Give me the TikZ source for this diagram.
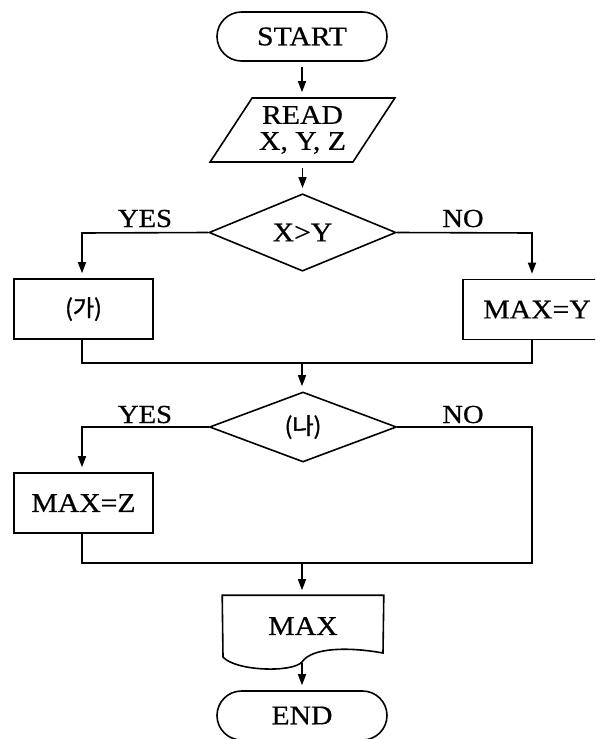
\documentclass[tikz,border=0pt]{standalone}
\usepackage{fontspec}
\setmainfont{Liberation Serif}[FakeStretch=1.1, FakeBold=0.6]
\newfontfamily\kr{Noto Sans CJK KR}[FakeBold=1.5]
\usetikzlibrary{shapes.geometric,shapes.misc,arrows.meta}

\begin{document}
\begin{tikzpicture}[x=1pt,y=-1pt, line width=1.6pt,
 every node/.style={font=\fontsize{27}{26}\selectfont, inner sep=0pt},
 term/.style={rounded rectangle, draw, minimum width=170, minimum height=49},
 io/.style={trapezium, trapezium left angle=53, trapezium right angle=127, trapezium stretches=true, draw, minimum width=185, minimum height=64, align=center},
 dec/.style={diamond, draw, minimum width=187, minimum height=71},
 proc/.style={rectangle, draw, minimum width=139, minimum height=60},
 krtext/.style={font=\kr\fontsize{23}{23}\selectfont},
 lbl/.style={font=\fontsize{26}{26}\selectfont, anchor=base},
 arr/.style={-{Triangle[length=11pt,width=8pt]}},
 gap/.style={shorten <=5pt, shorten >=5pt}
]
\path[clip] (0,0) rectangle (595,739);
\fill[white] (0,0) rectangle (595,739);

\node[term] (start) at (302,36.5) {START};
\node[io] (read) at (302.5,130) {READ\\X, Y, Z};
\node[dec] (d1) at (302.5,232.5) {X>Y};
\node[proc, krtext] (ga) at (83.5,309) {(가)};
\node[proc, minimum width=148] (maxy) at (537,309.5) {MAX=Y};
\coordinate (c0) at (82,233);
\coordinate (c1) at (532,233);
\coordinate (m1) at (302,363);
\node[dec, minimum height=70, krtext] (d2) at (303,427) {(나)};
\node[proc] (maxz) at (83.5,503) {MAX=Z};
\coordinate (m2) at (302,563);
\node[minimum width=160, minimum height=60] (doc) at (303,626) {MAX};
\coordinate (docb) at (302,663);
\node[term] (end) at (302,715.5) {END};

\node[lbl] (yes1) at (145,227) {YES};
\node[lbl] (no1) at (463,227) {NO};
\node[lbl] (yes2) at (145,423) {YES};
\node[lbl] (no2) at (463,423) {NO};

% document shape
\draw (doc.north west) -- (doc.north east) -- (383,653)
  .. controls (350,647) and (312,647) .. (302,662)
  .. controls (292,673) and (235,671) .. (223,657) -- cycle;

\draw[arr,gap] (start.south) -- (start.south |- read.north);
\draw[arr,gap] (read.south) -- (read.south |- d1.north);
\draw[arr, shorten >=5pt] (d1.west) -- (c0) -- (c0 |- ga.north);
\draw[arr, shorten >=5pt] (d1.east) -- (c1) -- (c1 |- maxy.north);
\draw (c0 |- ga.south) -- (c0 |- m1) -- (c1 |- m1) -- (c1 |- maxy.south);
\draw[arr, shorten >=5pt] (m1) -- (m1 |- d2.north);
\draw[arr, shorten >=5pt] (d2.west) -- (d2.west -| c0) -- (c0 |- maxz.north);
\draw (d2.east) -- (d2.east -| c1) -- (c1 |- m2) -- (c0 |- m2) -- (c0 |- maxz.south);
\draw[arr, shorten >=5pt] (m2) -- (m2 |- doc.north);
\draw[arr, shorten >=5pt] (docb) -- (docb |- end.north);
\end{tikzpicture}
\end{document}
